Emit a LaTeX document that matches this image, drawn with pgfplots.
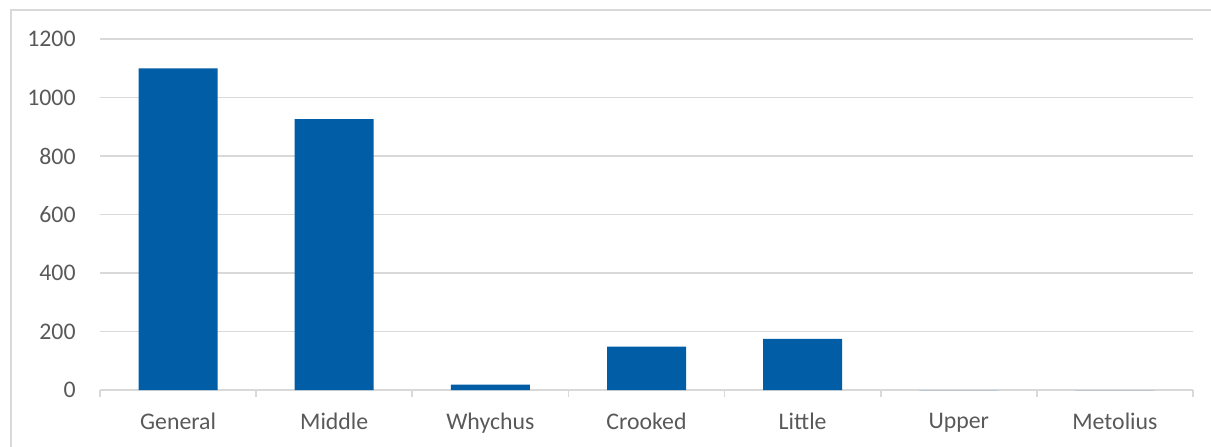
\documentclass[border=0pt]{standalone}
\usepackage{fontspec}
\setmainfont{Carlito}
\usepackage{pgfplots}
\pgfplotsset{compat=1.18}

\definecolor{barblue}{HTML}{005DA6}
\definecolor{gridgray}{HTML}{D9D9D9}
\definecolor{labelgray}{HTML}{595959}

\begin{document}
\begin{tikzpicture}
\begin{axis}[
    scale only axis,
    width=546.5pt,
    height=175.5pt,
    ybar,
    bar width=39.5pt,
    bar shift=0pt,
    xmin=-0.5, xmax=6.5,
    ymin=0, ymax=1200,
    xtick={0,1,2,3,4,5,6},
    xticklabels={General, Middle, Whychus, Crooked, Little, Upper, Metolius},
    minor xtick={-0.5,0.5,1.5,2.5,3.5,4.5,5.5,6.5},
    ytick={0,200,400,600,800,1000,1200},
    major tick length=0pt,
    minor tick length=3.5pt,
    xtick align=outside,
    xtick pos=bottom,
    ytick pos=left,
    tick style={gridgray, line width=0.9pt},
    axis line style={draw=none},
    ymajorgrids=true,
    major grid style={gridgray, line width=0.9pt},
    tick label style={font=\fontsize{11.9}{14}\selectfont, text=labelgray},
    xticklabel style={inner sep=0pt, anchor=north, yshift=-11.5pt},
    yticklabel style={inner sep=0pt, anchor=east, xshift=-12pt},
    /pgf/number format/assume math mode=true,
    /pgf/number format/1000 sep={},
]
\addplot[fill=barblue, draw=none] coordinates {
    (0,1100) (1,926) (2,18) (3,148) (4,175) (5,0) (6,0)
};
\end{axis}
\path[use as bounding box] ([shift={(-50pt,-28pt)}]current axis.south west)
    rectangle ([shift={(9pt,19.5pt)}]current axis.north east);
\draw[gridgray, line width=0.7pt]
    ([shift={(-44.5pt,-30pt)}]current axis.south west)
    |- ([shift={(12pt,14.5pt)}]current axis.north east);
\end{tikzpicture}
\end{document}
